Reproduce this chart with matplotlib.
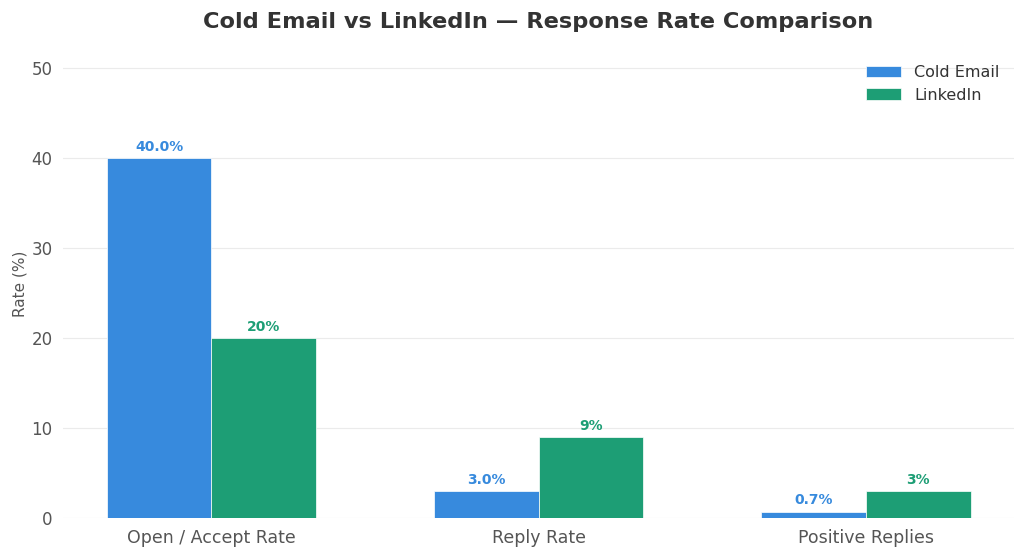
import matplotlib.pyplot as plt
import numpy as np

plt.rcParams['font.family'] = ['DejaVu Sans']

categories = ["Open / Accept Rate", "Reply Rate", "Positive Replies"]
cold_email = [40.0, 3.0, 0.7]
linkedin = [20, 9, 3]
email_labels = ["40.0%", "3.0%", "0.7%"]
linkedin_labels = ["20%", "9%", "3%"]

BLUE = "#378ADD"
GREEN = "#1D9E75"

fig, ax = plt.subplots(figsize=(10.24, 5.59), dpi=100)

x = np.arange(len(categories))
w = 0.32
b1 = ax.bar(x - w / 2, cold_email, w, color=BLUE, label="Cold Email", edgecolor="white", linewidth=0.5, zorder=3)
b2 = ax.bar(x + w / 2, linkedin, w, color=GREEN, label="LinkedIn", edgecolor="white", linewidth=0.5, zorder=3)

for rect, lab in zip(b1, email_labels):
    ax.text(rect.get_x() + rect.get_width() / 2, rect.get_height() + 0.5, lab,
            ha="center", va="bottom", color=BLUE, fontsize=10, fontweight="bold")
for rect, lab in zip(b2, linkedin_labels):
    ax.text(rect.get_x() + rect.get_width() / 2, rect.get_height() + 0.5, lab,
            ha="center", va="bottom", color=GREEN, fontsize=10, fontweight="bold")

ax.set_ylim(0, 52)
ax.set_yticks([0, 10, 20, 30, 40, 50])
ax.set_xticks(x)
ax.set_xticklabels(categories, fontsize=12.5, color="#555555")
ax.tick_params(axis="y", labelsize=12, colors="#555555", length=0, pad=8)
ax.tick_params(axis="x", length=0, pad=8)
ax.set_ylabel("Rate (%)", fontsize=11, color="#555555", labelpad=3)
ax.set_title("Cold Email vs LinkedIn — Response Rate Comparison", fontsize=16.2,
             fontweight="bold", color="#333333", pad=16)
ax.grid(axis="y", color="#EBEBEB", linewidth=0.8, zorder=0)
for s in ax.spines.values():
    s.set_visible(False)

leg = ax.legend(frameon=False, fontsize=11.5, loc="upper right", handlelength=2.2)
for t in leg.get_texts():
    t.set_color("#333333")

fig.subplots_adjust(left=0.062, right=0.99, top=0.91, bottom=0.073)
fig.savefig("out.png", dpi=100)
